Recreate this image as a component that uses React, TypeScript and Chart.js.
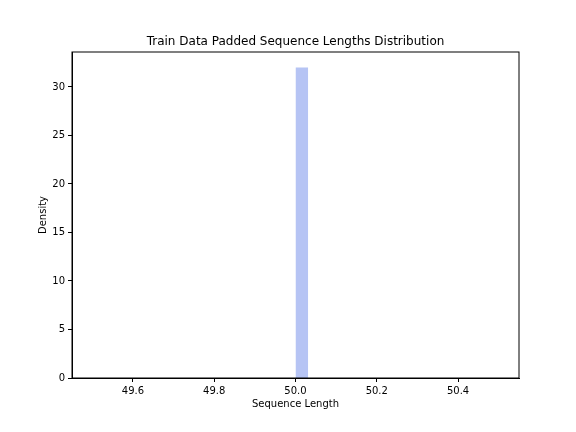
import { useEffect, useRef } from "react"
import { Chart, registerables } from "chart.js"

Chart.register(...registerables)

// single histogram bin: left edge, right edge, density
const binEdges = [50.0, 50.03125]
const binDensity = [32]
const xTicks = [49.6, 49.8, 50.0, 50.2, 50.4]
const yTicks = [0, 5, 10, 15, 20, 25, 30]

const FONT = "'DejaVu Sans', sans-serif"
const TITLE = "Train Data Padded Sequence Lengths Distribution"
const X_LABEL = "Sequence Length"
const Y_LABEL = "Density"

// frame box plus title and axis labels centred on the axes area
const frame = {
  id: "frame",
  afterDraw(chart: Chart) {
    const { ctx, chartArea: a } = chart
    const cx = (a.left + a.right) / 2
    const cy = (a.top + a.bottom) / 2
    ctx.save()
    ctx.strokeStyle = "#000"
    ctx.lineWidth = 1
    ctx.strokeRect(a.left, a.top, a.right - a.left, a.bottom - a.top)
    ctx.fillStyle = "#000"
    ctx.textAlign = "center"
    ctx.textBaseline = "middle"
    ctx.font = `12px ${FONT}`
    ctx.fillText(TITLE, cx, a.top - 10)
    ctx.font = `10px ${FONT}`
    ctx.fillText(X_LABEL, cx, a.bottom + 26)
    ctx.translate(a.left - 29, cy)
    ctx.rotate(-Math.PI / 2)
    ctx.fillText(Y_LABEL, 0, 0)
    ctx.restore()
  },
}

export default function App() {
  const chartRef = useRef<HTMLCanvasElement>(null)

  useEffect(() => {
    if (!chartRef.current) return
    const points = [
      { x: binEdges[0], y: 0 },
      { x: binEdges[0], y: binDensity[0] },
      { x: binEdges[1], y: binDensity[0] },
      { x: binEdges[1], y: 0 },
    ]
    const chart = new Chart(chartRef.current, {
      type: "line",
      data: {
        datasets: [
          {
            data: points,
            borderWidth: 0,
            borderColor: "rgba(0,0,0,0)",
            backgroundColor: "#b6c4f4",
            fill: "origin",
            pointRadius: 0,
            tension: 0,
          },
        ],
      },
      plugins: [frame],
      options: {
        animation: false,
        responsive: false,
        layout: { padding: { left: 0, right: 57, top: 52, bottom: 0 } },
        plugins: {
          legend: { display: false },
          tooltip: { enabled: false },
          title: { display: false },
        },
        scales: {
          x: {
            type: "linear",
            min: 49.45,
            max: 50.55,
            afterBuildTicks: (s: any) => {
              s.ticks = xTicks.map((v) => ({ value: v }))
            },
            afterFit: (s: any) => {
              s.height = 54
            },
            ticks: {
              color: "#000",
              font: { family: FONT, size: 10 },
              maxRotation: 0,
              callback: (v: any) => Number(v).toFixed(1),
            },
            grid: { drawOnChartArea: false, tickLength: 4, color: "#000" },
            border: { color: "#000" },
          },
          y: {
            type: "linear",
            min: 0,
            max: 33.6,
            afterBuildTicks: (s: any) => {
              s.ticks = yTicks.map((v) => ({ value: v }))
            },
            afterFit: (s: any) => {
              s.width = 72
            },
            ticks: { color: "#000", font: { family: FONT, size: 10 } },
            grid: { drawOnChartArea: false, tickLength: 4, color: "#000" },
            border: { color: "#000" },
          },
        },
      },
    })
    return () => chart.destroy()
  }, [])

  return (
    <div style={{ position: "absolute", left: 0, top: 0, width: 576, height: 432, background: "#fff" }}>
      <canvas ref={chartRef} width={576} height={432} />
    </div>
  )
}
